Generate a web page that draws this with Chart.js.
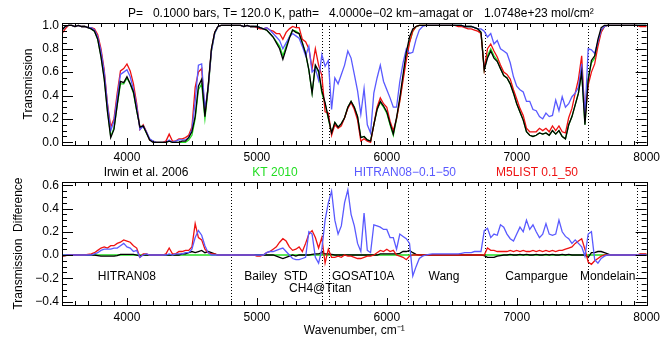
<!DOCTYPE html>
<html>
<head>
<meta charset="utf-8">
<script src="https://cdn.jsdelivr.net/npm/chart.js@4.4.1/dist/chart.umd.min.js"></script>
<style>
  html, body { margin: 0; padding: 0; background: #fff; }
  #wrap { position: relative; width: 665px; height: 337px; }
  #top { position: absolute; left: 0; top: 0; }
  #bot { position: absolute; left: 0; top: 165px; }
</style>
</head>
<body>
<div id="wrap">
  <canvas id="top" width="665" height="165"></canvas>
  <canvas id="bot" width="665" height="172"></canvas>
</div>
<script>
// wavenumber grid, cm-1 (3500..8000 every 25)
const wavenumber = Array.from({length: 181}, (_, i) => 3500 + 25 * i);

const xTicks = [4000, 5000, 6000, 7000, 8000];
const transTicks = [0, 0.2, 0.4, 0.6, 0.8, 1.0];
const diffTicks = [-0.4, -0.2, 0, 0.2, 0.4, 0.6];

// line list boundaries (dotted lines) and their names
const listEdges = [4800, 5500, 5555, 6165, 6757, 7550, 7925];
const listNames = ['HITRAN08', 'Bailey  STD', 'CH4@Titan', 'GOSAT10A', 'Wang', 'Campargue', 'Mondelain'];

const seriesNames = ['Irwin et al. 2006', 'KT 2010', 'HITRAN08\u22120.1\u221250', 'M5LIST 0.1_50'];

// transmission, top panel
const irwinTrans = [
  0.96, 0.99, 1.0, 1.0, 0.99, 1.0, 0.99, 0.99, 0.98, 0.97,
  0.95, 0.88, 0.73, 0.54, 0.26, 0.04, 0.11, 0.32, 0.52, 0.51,
  0.56, 0.5, 0.43, 0.27, 0.13, 0.14, 0.08, 0.02, 0.0, 0.0,
  0.0, 0.0, 0.0, 0.01, 0.0, 0.0, 0.0, 0.01, 0.01, 0.04,
  0.09, 0.22, 0.48, 0.54, 0.22, 0.48, 0.8, 0.94, 0.99, 1.0,
  1.0, 1.0, 1.0, 1.0, 1.0, 1.0, 0.99, 1.0, 0.99, 0.99,
  0.99, 0.98, 0.97, 0.96, 0.93, 0.9, 0.85, 0.8, 0.71, 0.8,
  0.89, 0.96, 0.94, 0.93, 0.85, 0.76, 0.62, 0.42, 0.66, 0.61,
  0.44, 0.34, 0.21, 0.08, 0.17, 0.13, 0.16, 0.21, 0.3, 0.35,
  0.3, 0.22, 0.04, 0.05, 0.02, 0.01, 0.15, 0.28, 0.35, 0.31,
  0.26, 0.16, 0.07, 0.21, 0.38, 0.58, 0.77, 0.9, 0.97, 0.99,
  1.0, 1.0, 1.0, 1.0, 1.0, 1.0, 1.0, 1.0, 1.0, 1.0,
  1.0, 1.0, 1.0, 1.0, 0.99, 0.99, 0.99, 0.98, 0.97, 0.94,
  0.62, 0.72, 0.78, 0.72, 0.69, 0.63, 0.57, 0.55, 0.5, 0.42,
  0.33, 0.26, 0.19, 0.09, 0.06, 0.05, 0.06, 0.08, 0.07, 0.08,
  0.06, 0.1, 0.07, 0.1, 0.05, 0.03, 0.15, 0.22, 0.32, 0.42,
  0.6, 0.15, 0.53, 0.7, 0.74, 0.88, 0.98, 1.0, 1.0, 1.0,
  1.0, 1.0, 1.0, 1.0, 1.0, 1.0, 1.0, 1.0, 1.0, 1.0,
  1.0
];
const ktTrans = [
  0.97, 0.99, 1.0, 1.0, 0.99, 1.0, 0.99, 0.99, 0.98, 0.97,
  0.95, 0.88, 0.74, 0.55, 0.27, 0.05, 0.12, 0.32, 0.5, 0.5,
  0.55, 0.5, 0.42, 0.27, 0.13, 0.14, 0.08, 0.02, 0.01, 0.0,
  0.0, 0.0, 0.0, 0.01, 0.0, 0.0, 0.0, 0.0, 0.0, 0.02,
  0.06, 0.2, 0.45, 0.5, 0.2, 0.45, 0.78, 0.93, 0.99, 1.0,
  1.0, 1.0, 1.0, 1.0, 1.0, 1.0, 0.99, 1.0, 0.99, 0.99,
  0.99, 0.98, 0.97, 0.96, 0.93, 0.9, 0.86, 0.82, 0.74, 0.82,
  0.9, 0.96, 0.95, 0.93, 0.85, 0.76, 0.62, 0.42, 0.65, 0.6,
  0.42, 0.33, 0.2, 0.08, 0.17, 0.13, 0.16, 0.21, 0.3, 0.35,
  0.3, 0.22, 0.04, 0.05, 0.02, 0.01, 0.15, 0.28, 0.34, 0.3,
  0.25, 0.15, 0.06, 0.2, 0.36, 0.55, 0.74, 0.86, 0.95, 0.99,
  1.0, 1.0, 1.0, 1.0, 1.0, 1.0, 1.0, 1.0, 1.0, 1.0,
  1.0, 1.0, 1.0, 1.0, 0.99, 0.99, 0.99, 0.98, 0.97, 0.94,
  0.62, 0.74, 0.8, 0.74, 0.7, 0.63, 0.57, 0.55, 0.5, 0.42,
  0.33, 0.26, 0.19, 0.09, 0.06, 0.05, 0.06, 0.08, 0.07, 0.08,
  0.06, 0.1, 0.07, 0.1, 0.05, 0.03, 0.15, 0.22, 0.32, 0.42,
  0.6, 0.15, 0.55, 0.68, 0.72, 0.85, 0.95, 0.99, 1.0, 1.0,
  1.0, 1.0, 1.0, 1.0, 1.0, 1.0, 1.0, 1.0, 1.0, 1.0,
  1.0
];
const hitTrans = [
  0.96, 0.99, 1.0, 1.0, 0.99, 1.0, 0.99, 0.99, 0.98, 0.98,
  0.96, 0.9, 0.78, 0.6, 0.32, 0.1, 0.18, 0.38, 0.58, 0.6,
  0.62, 0.56, 0.45, 0.31, 0.11, 0.14, 0.09, 0.03, 0.01, 0.0,
  0.0, 0.0, 0.0, 0.02, 0.0, 0.01, 0.02, 0.02, 0.02, 0.04,
  0.11, 0.35, 0.66, 0.67, 0.28, 0.47, 0.78, 0.93, 0.99, 1.0,
  1.0, 1.0, 1.0, 1.0, 1.0, 1.0, 0.99, 1.0, 0.99, 0.99,
  0.99, 0.98, 0.97, 0.98, 0.96, 0.93, 0.9, 0.87, 0.8, 0.85,
  0.9, 0.93, 0.91, 0.89, 0.82, 0.74, 0.82, 0.6, 0.63, 0.53,
  0.75, 0.65, 0.7, 0.28, 0.55, 0.5, 0.58, 0.66, 0.78, 0.72,
  0.58, 0.44, 0.24, 0.46, 0.15, 0.08, 0.42, 0.55, 0.66, 0.52,
  0.45, 0.38, 0.3, 0.3, 0.52, 0.68, 0.8, 0.76, 0.77, 0.88,
  0.96, 0.99, 1.0, 1.0, 1.0, 1.0, 1.0, 1.0, 1.0, 1.0,
  1.0, 1.0, 1.0, 1.0, 0.99, 0.99, 0.99, 0.98, 0.97, 0.97,
  0.95, 0.9, 0.93, 0.84, 0.87, 0.8, 0.78, 0.76, 0.68, 0.56,
  0.48, 0.45, 0.43, 0.35, 0.35, 0.28, 0.27, 0.22, 0.2, 0.25,
  0.22, 0.23, 0.36, 0.27, 0.39, 0.3, 0.33, 0.39, 0.42, 0.47,
  0.67, 0.22, 0.8, 0.79, 0.76, 0.86, 0.96, 0.99, 1.0, 1.0,
  1.0, 1.0, 1.0, 1.0, 1.0, 1.0, 1.0, 1.0, 1.0, 1.0,
  1.0
];
const m5Trans = [
  0.93, 0.97, 1.0, 1.0, 0.99, 1.0, 0.99, 0.99, 0.98, 0.98,
  0.97, 0.92, 0.8, 0.62, 0.33, 0.13, 0.2, 0.42, 0.61, 0.63,
  0.67, 0.61, 0.5, 0.33, 0.11, 0.15, 0.09, 0.02, 0.01, 0.0,
  0.0, 0.0, 0.01, 0.07, 0.01, 0.01, 0.03, 0.03, 0.04, 0.06,
  0.13, 0.47, 0.6, 0.63, 0.25, 0.47, 0.79, 0.94, 0.99, 1.0,
  1.0, 1.0, 1.0, 1.0, 1.0, 1.0, 0.99, 1.0, 0.99, 0.99,
  0.98, 0.97, 0.97, 0.98, 0.96, 0.95, 0.93, 0.93, 0.88, 0.94,
  0.97, 0.99, 0.98, 0.98, 0.88, 0.86, 0.8, 0.63, 0.8, 0.66,
  0.57, 0.26, 0.25, 0.06, 0.15, 0.12, 0.14, 0.21, 0.29, 0.34,
  0.28, 0.19, 0.01, 0.03, 0.01, 0.0, 0.15, 0.3, 0.38, 0.33,
  0.3, 0.18, 0.1, 0.2, 0.35, 0.53, 0.7, 0.85, 0.95, 0.99,
  1.0, 1.0, 1.0, 1.0, 1.0, 1.0, 1.0, 1.0, 1.0, 1.0,
  1.0, 1.0, 0.99, 0.99, 0.98, 0.97, 0.97, 0.96, 0.95, 0.93,
  0.62, 0.8, 0.84, 0.78, 0.73, 0.66, 0.6, 0.58, 0.54, 0.45,
  0.37, 0.29, 0.23, 0.12, 0.09, 0.09, 0.09, 0.12, 0.1, 0.12,
  0.09, 0.14, 0.1, 0.14, 0.09, 0.08, 0.21, 0.29, 0.42, 0.54,
  0.74, 0.2, 0.49, 0.6, 0.67, 0.82, 0.94, 0.99, 1.0, 1.0,
  1.0, 1.0, 1.0, 1.0, 1.0, 1.0, 1.0, 1.0, 0.99, 0.99,
  0.99
];

// transmission difference, bottom panel
const irwinDiff = [
  -0.01, -0.005, 0, 0, 0, 0, 0, 0, 0, 0,
  0, -0.005, -0.01, -0.01, -0.01, -0.01, -0.01, -0.005, 0.005, 0.005,
  0.005, 0.005, 0.005, 0, -0.01, 0, 0, 0, 0, 0,
  0, 0, 0, 0, 0, 0, 0, 0.01, 0.01, 0.02,
  0.03, 0.02, 0.03, 0.04, 0.02, 0.03, 0.02, 0.01, 0, 0,
  0, 0, 0, 0, 0, 0, 0, 0, 0, 0,
  0, 0, 0, 0, 0, 0, -0.01, -0.02, -0.03, -0.02,
  -0.01, 0, -0.01, 0, 0, 0, 0, 0.005, 0.01, 0.01,
  0.02, 0.01, 0.01, 0.005, 0, 0, 0, 0, 0, 0,
  0, 0, 0, 0, 0, 0, 0, 0, 0.01, 0.01,
  0.01, 0.01, 0.01, 0.01, 0.015, 0.03, 0.03, 0.04, 0.02, 0.005,
  0, 0, 0, 0, 0, 0, 0, 0, 0, 0,
  0, 0, 0, 0, 0, 0, 0, 0, 0, 0,
  -0.005, -0.02, -0.02, -0.02, -0.01, -0.005, 0, 0, 0.005, 0,
  0, 0.005, 0, 0.005, 0, 0, 0.005, 0, 0, 0.005,
  0, 0.005, 0, 0, 0.005, 0, 0.005, 0, 0, 0,
  0, 0, -0.02, 0.02, 0.02, 0.03, 0.03, 0.02, 0.01, 0,
  0, 0, 0, 0, 0, 0, 0, 0, 0.005, 0.005,
  0.005
];
const ktDiff = [
  0, 0, 0, 0, 0, 0, 0, 0, 0, 0,
  0, 0, 0, 0, 0, 0, 0, 0, 0, 0,
  0, 0, 0, 0, 0, 0, 0, 0, 0, 0,
  0, 0, 0, 0, 0, 0, 0, 0, 0, 0,
  0, 0, 0, 0, 0, 0, 0, 0, 0, 0,
  0, 0, 0, 0, 0, 0, 0, 0, 0, 0,
  0, 0, 0, 0, 0, 0, 0, 0, 0, 0,
  0, 0, 0, 0, 0, 0, 0, 0, 0, 0,
  0, 0, 0, 0, 0, 0, 0, 0, 0, 0,
  0, 0, 0, 0, 0, 0, 0, 0, 0, 0,
  0, 0, 0, 0, 0, 0, 0, 0, 0, 0,
  0, 0, 0, 0, 0, 0, 0, 0, 0, 0,
  0, 0, 0, 0, 0, 0, 0, 0, 0, 0,
  0, 0, 0, 0, 0, 0, 0, 0, 0, 0,
  0, 0, 0, 0, 0, 0, 0, 0, 0, 0,
  0, 0, 0, 0, 0, 0, 0, 0, 0, 0,
  0, 0, 0, 0, 0, 0, 0, 0, 0, 0,
  0, 0, 0, 0, 0, 0, 0, 0, 0, 0,
  0
];
const hitDiff = [
  0, 0, 0, 0, 0, 0, 0, 0, 0, 0,
  0.01, 0.02, 0.04, 0.05, 0.05, 0.05, 0.06, 0.06, 0.08, 0.1,
  0.07, 0.06, 0.03, 0.04, -0.02, 0, 0.01, 0, 0, 0,
  0, 0, 0, 0.01, 0, 0.01, 0.01, 0.01, 0.02, 0.02,
  0.05, 0.15, 0.21, 0.17, 0.08, 0.02, 0, 0, 0, 0,
  0, 0, 0, 0, 0, 0, 0, 0, 0, 0,
  0, 0, 0, 0.02, 0.03, 0.03, 0.04, 0.05, 0.06, 0.03,
  0, -0.03, -0.04, -0.04, -0.03, -0.02, 0.2, 0.18, -0.02, -0.07,
  0.05, 0.3, 0.45, 0.55, 0.3, 0.18, 0.25, 0.45, 0.56, 0.35,
  0.25, 0.1, 0.03, 0.36, 0.04, 0.02, 0.26, 0.25, 0.24, 0.22,
  0.22, 0.15, 0.15, 0.05, 0.18, 0.16, 0.14, 0.1, -0.18, -0.1,
  -0.03, -0.01, 0, 0.005, 0.01, 0.01, 0.01, 0.01, 0.01, 0.01,
  0.01, 0.01, 0.01, 0.015, 0.02, 0.02, 0.02, 0.03, 0.03, 0.03,
  0.21, 0.23, 0.15, 0.18, 0.17, 0.26, 0.24, 0.18, 0.14, 0.12,
  0.18, 0.24, 0.2, 0.3, 0.22, 0.26, 0.2, 0.15, 0.18, 0.27,
  0.18, 0.17, 0.18, 0.3, 0.2, 0.16, 0.14, 0.1, 0.13, 0.1,
  0.07, -0.01, 0.18, 0.2, -0.04, -0.07, -0.03, -0.01, 0, 0,
  0, 0, 0, 0, 0, 0, 0, 0, 0, 0,
  0
];
const m5Diff = [
  -0.01, -0.005, 0, 0, 0, 0, 0, 0, 0.005, 0.01,
  0.02, 0.04, 0.06, 0.07, 0.06, 0.08, 0.08, 0.1, 0.11, 0.13,
  0.12, 0.11, 0.08, 0.06, -0.02, 0.01, 0.01, 0, 0, 0,
  0, 0, 0.01, 0.06, 0.01, 0.01, 0.03, 0.03, 0.04, 0.04,
  0.07, 0.27, 0.15, 0.13, 0.05, 0.02, 0.01, 0.01, 0, 0,
  0, 0, 0, 0, 0, 0, 0, 0, 0, 0,
  -0.01, -0.01, 0, 0.02, 0.03, 0.05, 0.07, 0.11, 0.14, 0.12,
  0.07, 0.04, 0.05, 0.07, 0.03, 0.1, 0.18, 0.21, 0.15, 0.06,
  0.15, -0.07, 0.05, -0.02, -0.02, -0.01, -0.02, 0, -0.01, -0.01,
  -0.02, -0.03, -0.03, -0.02, -0.01, -0.01, 0, 0.02, 0.04, 0.03,
  0.05, 0.03, 0.04, 0, -0.01, -0.02, -0.04, -0.01, 0, 0,
  0, 0, 0, 0, 0, 0, 0, 0, 0, 0,
  0, 0, 0, 0, 0, 0, 0, 0, 0, 0,
  0, 0.06, 0.04, 0.04, 0.03, 0.03, 0.03, 0.03, 0.04, 0.03,
  0.04, 0.03, 0.04, 0.03, 0.03, 0.04, 0.03, 0.04, 0.03, 0.04,
  0.03, 0.04, 0.03, 0.04, 0.04, 0.05, 0.06, 0.07, 0.1, 0.12,
  0.14, 0.05, -0.06, -0.08, -0.05, -0.03, -0.01, 0, 0, 0,
  0, 0, 0, 0, 0, 0, 0, 0, 0.01, 0.01,
  0.01
];

const FONT = '"Liberation Sans", Arial, sans-serif';
const COLORS = ['#000000', '#22dd22', '#5a5aff', '#ee1111'];
Chart.defaults.font.family = FONT;
Chart.defaults.font.size = 12;
Chart.defaults.color = '#000';

function line(label, values, color, width) {
  return {
    label,
    data: values.map((v, i) => ({x: wavenumber[i], y: v})),
    borderColor: color,
    borderWidth: width || 1.3,
    pointRadius: 0,
    tension: 0,
    fill: false
  };
}

function fmt(v) {
  return v < 0 ? '\u2212' + (-v).toFixed(1) : v.toFixed(1);
}

// IDL-like frame with inward ticks on all four sides
const framePlugin = {
  id: 'frame',
  afterDatasetsDraw(chart) {
    const {ctx, chartArea: a, scales: {x, y}} = chart;
    ctx.save();
    ctx.strokeStyle = '#000';
    ctx.lineWidth = 1;
    ctx.beginPath();
    for (let k = 36; k < 80; k++) {
      const px = Math.round(x.getPixelForValue(k * 100)) + 0.5;
      const len = k % 10 === 0 ? 7 : 4;
      ctx.moveTo(px, a.bottom); ctx.lineTo(px, a.bottom - len);
      ctx.moveTo(px, a.top); ctx.lineTo(px, a.top + len);
    }
    const k0 = Math.ceil(y.min / 0.05 - 1e-6), k1 = Math.floor(y.max / 0.05 + 1e-6);
    for (let k = k0; k <= k1; k++) {
      const py = Math.round(y.getPixelForValue(k * 0.05)) + 0.5;
      const len = k % 4 === 0 ? 11 : 5;
      ctx.moveTo(a.left, py); ctx.lineTo(a.left + len, py);
      ctx.moveTo(a.right, py); ctx.lineTo(a.right - len, py);
    }
    ctx.stroke();
    ctx.strokeRect(Math.round(a.left) + 0.5, Math.round(a.top) + 0.5,
      Math.round(a.right - a.left), Math.round(a.bottom - a.top));
    ctx.restore();
  }
};

// dotted line-list boundaries
const edgesPlugin = {
  id: 'edges',
  beforeDatasetsDraw(chart) {
    const {ctx, chartArea: a, scales: {x}} = chart;
    ctx.save();
    ctx.strokeStyle = '#000';
    ctx.lineWidth = 1;
    ctx.setLineDash([1, 2]);
    ctx.beginPath();
    listEdges.forEach(w => {
      const px = Math.round(x.getPixelForValue(w)) + 0.5;
      ctx.moveTo(px, a.top); ctx.lineTo(px, a.bottom);
    });
    ctx.stroke();
    ctx.restore();
  }
};

// free text: title, coloured legend row, line-list names
const notesPlugin = {
  id: 'notes',
  afterDraw(chart, args, opts) {
    const {ctx, scales: {x}} = chart;
    ctx.save();
    ctx.font = '12px ' + FONT;
    ctx.textBaseline = 'middle';
    (opts.items || []).forEach(it => {
      ctx.fillStyle = it.color || '#000';
      ctx.textAlign = it.align || 'left';
      const px = it.wn !== undefined ? x.getPixelForValue(it.wn) : it.x;
      ctx.fillText(it.text, px, it.y);
    });
    ctx.restore();
  }
};

function scalesFor(yMin, yMax, yTicks, yTitle, yTitlePad, xHeight, xTitle) {
  return {
    x: {
      type: 'linear', min: 3500, max: 8000,
      afterBuildTicks: s => { s.ticks = xTicks.map(v => ({value: v})); },
      afterFit: s => { s.height = xHeight; },
      ticks: {padding: 5, maxRotation: 0, autoSkip: false, callback: v => String(v)},
      grid: {display: false, drawTicks: false},
      border: {display: false},
      title: xTitle ? {display: true, text: xTitle, padding: {top: 0, bottom: 0}, font: {size: 12, lineHeight: 1}} : {display: false}
    },
    y: {
      min: yMin, max: yMax,
      afterBuildTicks: s => { s.ticks = yTicks.map(v => ({value: v})); },
      afterFit: s => { s.width = 62; },
      ticks: {padding: 3, callback: v => fmt(v)},
      grid: {display: false, drawTicks: false},
      border: {display: false},
      title: {display: true, text: yTitle, padding: {top: yTitlePad, bottom: 0}, font: {size: 12}}
    }
  };
}

new Chart(document.getElementById('top'), {
  type: 'line',
  data: {
    datasets: [
      line(seriesNames[0], irwinTrans, COLORS[0]),
      line(seriesNames[2], hitTrans, COLORS[2]),
      line(seriesNames[3], m5Trans, COLORS[3]),
      line(seriesNames[1], ktTrans, COLORS[1])
    ]
  },
  options: {
    responsive: false,
    animation: false,
    events: [],
    layout: {padding: {top: 23, right: 16, bottom: 0, left: 0}},
    plugins: {
      legend: {display: false},
      tooltip: {enabled: false},
      notes: {
        items: [
          {text: 'P=', x: 128, y: 14},
          {text: '0.1000 bars, T= 120.0 K, path=', x: 319, y: 14, align: 'right'},
          {text: '4.0000e\u221202 km\u2212amagat or', x: 329, y: 14},
          {text: '1.0748e+23 mol/cm\u00b2', x: 484, y: 14}
        ]
      }
    },
    scales: scalesFor(-0.023, 1.02, transTicks, 'Transmission', 21, 20, null)
  },
  plugins: [edgesPlugin, framePlugin, notesPlugin]
});

const legendX = [146, 275, 405, 537];
const nameAnchors = [3776, 4903, 5248, 5578, 6321, 6912, 7487];
const nameRows = [112, 112, 124, 112, 112, 112, 112];

new Chart(document.getElementById('bot'), {
  type: 'line',
  data: {
    datasets: [
      line(seriesNames[2], hitDiff, COLORS[2]),
      line(seriesNames[3], m5Diff, COLORS[3]),
      line(seriesNames[0], irwinDiff, COLORS[0]),
      line(seriesNames[1], ktDiff, COLORS[1], 1.6)
    ]
  },
  options: {
    responsive: false,
    animation: false,
    events: [],
    layout: {padding: {top: 17, right: 16, bottom: 0, left: 0}},
    plugins: {
      legend: {display: false},
      tooltip: {enabled: false},
      notes: {
        items: seriesNames.map((t, i) => ({text: t, x: legendX[i], y: 8, color: COLORS[i], align: 'center'}))
          .concat(listNames.map((t, i) => ({text: t, wn: nameAnchors[i], y: nameRows[i]})))
      }
    },
    scales: scalesFor(-0.43, 0.628, diffTicks, 'Transmission  Difference', 11, 32, 'Wavenumber, cm\u207b\u00b9')
  },
  plugins: [edgesPlugin, framePlugin, notesPlugin]
});
</script>
</body>
</html>
